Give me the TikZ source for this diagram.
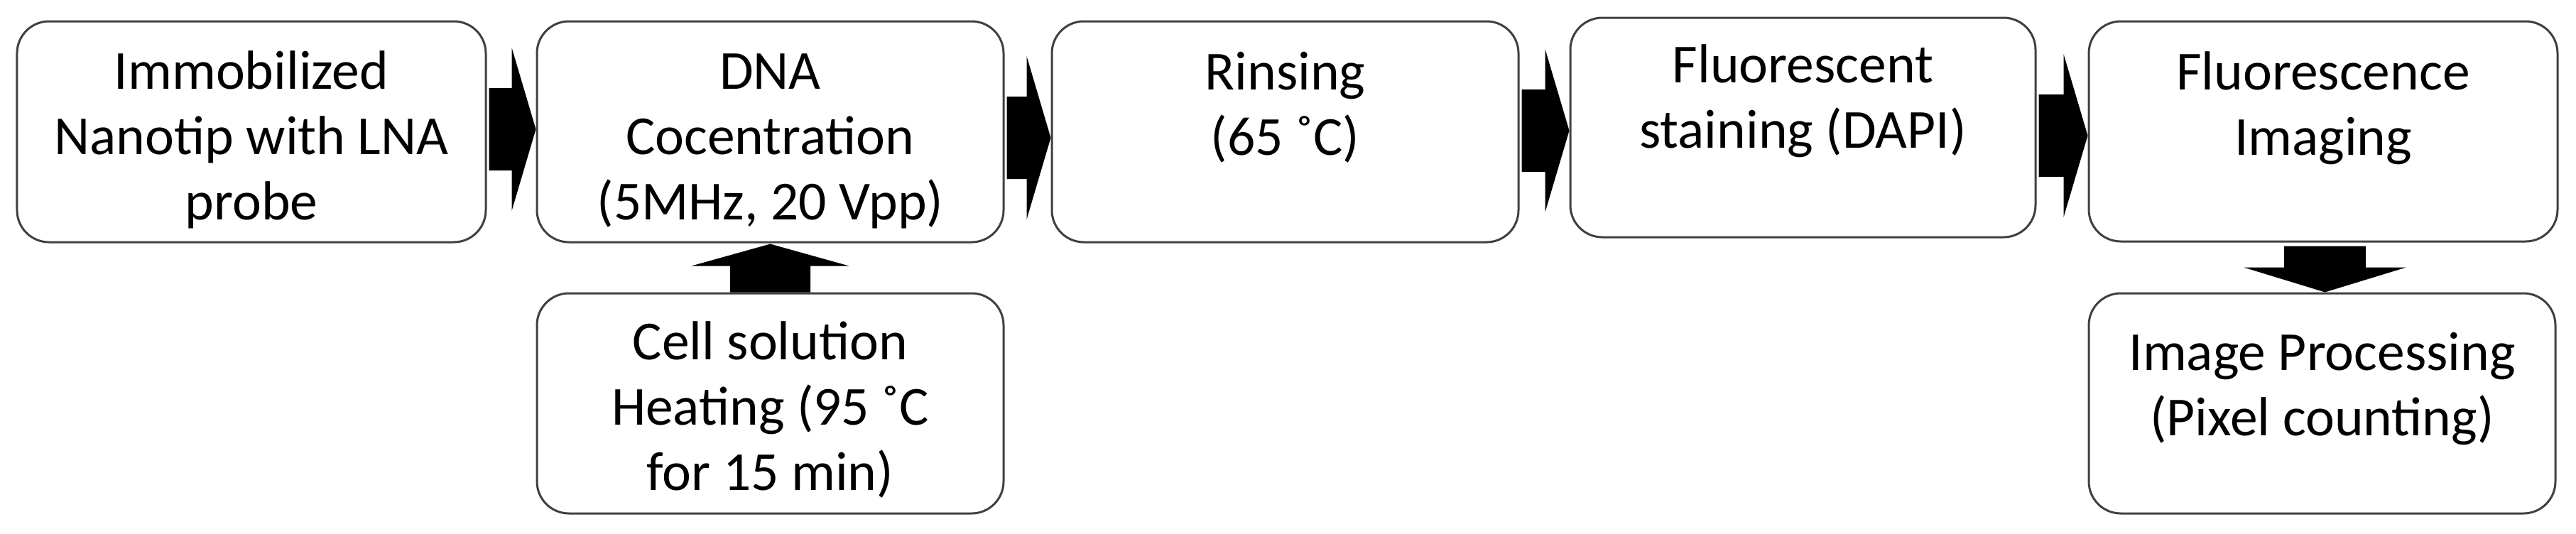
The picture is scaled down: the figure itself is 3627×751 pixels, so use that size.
\documentclass[tikz,border=0pt]{standalone}
\usepackage{fontspec}
\setmainfont{Carlito}
\usetikzlibrary{calc}
\definecolor{boxgray}{RGB}{64,64,64}
\newcommand\harrow[3]{\fill[black] let \p1=(#1.east), \p2=(#2.west), \p3=(0,#3) in
  (\x1+0.6pt,\y3+11.6pt) -- (\x2-6.8pt,\y3+11.6pt) -- (\x2-6.8pt,\y3+23pt) -- (\x2,\y3)
  -- (\x2-6.8pt,\y3-23pt) -- (\x2-6.8pt,\y3-11.6pt) -- (\x1+0.6pt,\y3-11.6pt) -- cycle;}
\begin{document}
\begin{tikzpicture}[x=0.2pt,y=-0.2pt,
  box/.style={draw=boxgray, line width=0.6pt, rounded corners=9pt, fill=white,
    minimum width=131.4pt, minimum height=62.2pt, inner sep=0pt},
  lbl/.style={align=center, font=\fontsize{15.5}{18.4}\selectfont, anchor=base, inner sep=0pt}]
\useasboundingbox (0,0) rectangle (3627,751);
% boxes
\node[box, minimum width=132pt] (b1) at (354,185.5) {};
\node[box] (b2) at (1084.5,185.5) {};
\node[box] (b3) at (1809.5,185.5) {};
\node[box, minimum width=131pt, minimum height=61.8pt] (b4) at (2538.5,179.5) {};
\node[box, minimum width=132pt, minimum height=62pt] (b5) at (3271,185) {};
\node[box, minimum height=62pt] (b6) at (1084.5,568) {};
\node[box, minimum height=62pt] (b7) at (3269.5,568) {};
% texts (anchored at the baseline of the last line)
\node[lbl] (t1) at (354,309) {Immobilized\\Nanotip with LNA\\probe};
\node[lbl] (t2) at (1084.5,309) {DNA\\Cocentration\\(5MHz, 20 Vpp)};
\node[lbl] (t3) at (1809.5,218) {Rinsing\\(65 ˚C)};
\node[lbl] (t4) at (2538.5,208) {Fluorescent\\staining (DAPI)};
\node[lbl] (t5) at (3271,218) {Fluorescence\\Imaging};
\node[lbl] (t6) at (1084.5,690) {Cell solution\\Heating (95 ˚C\\for 15 min)};
\node[lbl] (t7) at (3269.5,613) {Image Processing\\(Pixel counting)};
% horizontal block arrows
\harrow{b1}{b2}{182}
\harrow{b2}{b3}{194}
\harrow{b3}{b4}{184}
\harrow{b4}{b5}{191}
% up arrow b6 -> b2
\fill[black] let \p1=(b6.north), \p2=(b2.south) in
  (\x1-11.3pt,\y1) -- (\x1-11.3pt,\y1+7.4pt) -- (\x1-22.2pt,\y1+7.4pt) -- (\x1,\y2-0.2pt)
  -- (\x1+22.2pt,\y1+7.4pt) -- (\x1+11.3pt,\y1+7.4pt) -- (\x1+11.3pt,\y1) -- cycle;
% down arrow b5 -> b7
\fill[black] let \p1=(b5.south), \p2=(b7.north) in
  (\x1+0.5pt-11.5pt,\y1-1pt) -- (\x1+0.5pt-11.5pt,\y2+7pt) -- (\x1+0.5pt-22.9pt,\y2+7pt) -- (\x1+0.5pt,\y2)
  -- (\x1+0.5pt+22.9pt,\y2+7pt) -- (\x1+0.5pt+11.5pt,\y2+7pt) -- (\x1+0.5pt+11.5pt,\y1-1pt) -- cycle;
\end{tikzpicture}
\end{document}
